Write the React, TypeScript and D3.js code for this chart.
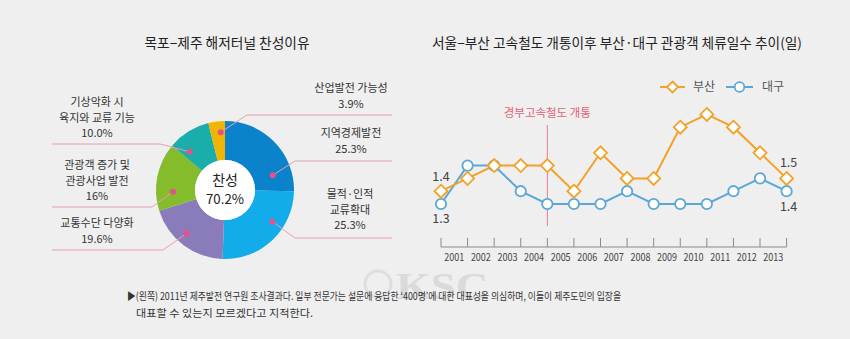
import React from 'react';
import * as d3 from 'd3';

// ---------- data ----------
const pieTitle = '목포−제주 해저터널 찬성이유';
const pieCategories = [
  ['지역경제발전'],
  ['물적·인적', '교류확대'],
  ['교통수단 다양화'],
  ['관광객 증가 및', '관광사업 발전'],
  ['기상악화 시', '육지와 교류 기능'],
  ['산업발전 가능성'],
];
const pieValues = [25.3, 25.3, 19.6, 16, 10.0, 3.9];
const pieValueLabels = ['25.3%', '25.3%', '19.6%', '16%', '10.0%', '3.9%'];
const pieCenterLabels = ['찬성', '70.2%'];

const lineTitle = '서울−부산 고속철도 개통이후 부산·대구 관광객 체류일수 추이(일)';
const years = ['2001', '2002', '2003', '2004', '2005', '2006', '2007', '2008', '2009', '2010', '2011', '2012', '2013'];
const busan = [1.4, 1.5, 1.6, 1.6, 1.6, 1.4, 1.7, 1.5, 1.5, 1.9, 2.0, 1.9, 1.7, 1.5];
const daegu = [1.3, 1.6, 1.6, 1.4, 1.3, 1.3, 1.3, 1.4, 1.3, 1.3, 1.3, 1.4, 1.5, 1.4];
const seriesNames = ['부산', '대구'];
const eventIndex = 4;
const eventLabel = '경부고속철도 개통';
const noteLines = [
  '▶(왼쪽) 2011년 제주발전 연구원 조사결과다. 일부 전문가는 설문에 응답한 \u2018400명\u2019에 대한 대표성을 의심하며, 이들이 제주도민의 입장을',
  '대표할 수 있는지 모르겠다고 지적한다.',
];

// ---------- styles / layout ----------
const FONT = "'Noto Sans CJK KR', 'Noto Sans', sans-serif";
const BG = '#efefef';
const TEXT = '#333';
const pieColors = ['#0b83cc', '#13acea', '#8a7cba', '#84bc2b', '#19aeaa', '#f1b401'];
const LEADER = '#e6a0b3';
const DOT = '#e8508a';
const ORANGE = '#f2a228';
const BLUE = '#5aa7d8';

const cx = 225, cy = 190, rOuter = 69, rInner = 30;

// label layout for each slice: text anchor, line, bend, dot position within slice
const labelLayout = [
  { tx: 351, ty: 133, ly: 161, bend: 295, end: 392, f: 0.8, r: 50 },
  { tx: 350, ty: 194, ly: 238, bend: 295, end: 392, f: 0.36, r: 57 },
  { tx: 97, ty: 223, ly: 250, bend: 163, end: 52, f: 0.56, r: 58 },
  { tx: 97, ty: 165, ly: 207, bend: 152, end: 52, f: 0.27, r: 52 },
  { tx: 97, ty: 102, ly: 144, bend: 160, end: 52, f: 0.2, r: 52 },
  { tx: 351, ty: 88, ly: 115, bend: 247, end: 392, f: 0.7, r: 58 },
];

export default function App() {
  const pie = d3.pie<number>().sort(null).value((d) => d)(pieValues);
  const arc = d3.arc<d3.PieArcDatum<number>>().innerRadius(rInner).outerRadius(rOuter);

  // line chart scales
  const x = d3.scaleLinear().domain([0, busan.length - 1]).range([441, 786.6]);
  const y = d3.scaleLinear().domain([1.3, 2.0]).range([204, 114.4]);
  const line = d3.line<number>().x((_, i) => x(i)).y((d) => y(d));
  const axisY = 247;
  const diamond = (px: number, py: number, s: number) =>
    `M${px},${py - s}L${px + s},${py}L${px},${py + s}L${px - s},${py}Z`;

  return (
    <svg
      width={850}
      height={339}
      style={{ position: 'absolute', left: 0, top: 0, background: BG, fontFamily: FONT }}
    >
      <rect x={0} y={0} width={850} height={339} fill={BG} />

      {/* watermark */}
      <g opacity={0.6}>
        <circle cx={378} cy={284} r={13} fill="none" stroke="#d4d4d4" strokeWidth={3} />
        <text x={396} y={299} fontFamily="'Liberation Serif', serif" fontWeight="bold" fontSize={38} fill="#cdcdcd" textLength={92} lengthAdjust="spacingAndGlyphs">KSC</text>
      </g>

      {/* ---------- left: donut ---------- */}
      <text x={227} y={48} textAnchor="middle" fontSize={13.5} fill="#222" textLength={165} lengthAdjust="spacingAndGlyphs">{pieTitle}</text>
      <g transform={`translate(${cx},${cy})`}>
        {pie.map((d, i) => (
          <path key={i} d={arc(d) || ''} fill={pieColors[i]} />
        ))}
        <circle r={rInner} fill="#fff" />
        <text y={-5} textAnchor="middle" fontSize={14} fill="#222">{pieCenterLabels[0]}</text>
        <text y={14} textAnchor="middle" fontSize={13.5} fill="#222" textLength={38} lengthAdjust="spacingAndGlyphs">{pieCenterLabels[1]}</text>
      </g>
      {pie.map((d, i) => {
        const L = labelLayout[i];
        const a = d.startAngle + L.f * (d.endAngle - d.startAngle);
        const dx = cx + L.r * Math.sin(a);
        const dy = cy - L.r * Math.cos(a);
        const lines = [...pieCategories[i], pieValueLabels[i]];
        return (
          <g key={i}>
            <polyline
              points={`${dx},${dy} ${L.bend},${L.ly} ${L.end},${L.ly}`}
              fill="none"
              stroke={LEADER}
              strokeWidth={1}
            />
            <circle cx={dx} cy={dy} r={3} fill={DOT} />
            {lines.map((t, j) => (
              <text key={j} x={L.tx} y={L.ty + j * 15.5 + 4} textAnchor="middle" fontSize={11} fill={TEXT}>
                {t}
              </text>
            ))}
          </g>
        );
      })}

      {/* ---------- right: line chart ---------- */}
      <text x={432} y={48} fontSize={13.5} fill="#222" textLength={370} lengthAdjust="spacingAndGlyphs">{lineTitle}</text>

      {/* legend */}
      <g>
        <line x1={660} x2={685} y1={87} y2={87} stroke={ORANGE} strokeWidth={2} />
        <path d={diamond(672.5, 87, 5.5)} fill="#fff" stroke={ORANGE} strokeWidth={1.8} />
        <text x={693} y={91} fontSize={12} fill="#555">{seriesNames[0]}</text>
        <line x1={726} x2={753} y1={87} y2={87} stroke={BLUE} strokeWidth={2} />
        <circle cx={739.5} cy={87} r={4.8} fill="#fff" stroke={BLUE} strokeWidth={1.8} />
        <text x={762} y={91} fontSize={12} fill="#555">{seriesNames[1]}</text>
      </g>

      {/* event marker */}
      <line x1={x(eventIndex)} x2={x(eventIndex)} y1={125} y2={226} stroke="#e57b90" strokeWidth={1} />
      <text x={x(eventIndex)} y={117} textAnchor="middle" fontSize={11.5} fill="#e0627b">{eventLabel}</text>

      {/* axis */}
      <line x1={x(0)} x2={x(busan.length - 1)} y1={axisY} y2={axisY} stroke="#8a8a8a" strokeWidth={1} />
      {busan.map((_, i) => (
        <line key={i} x1={x(i)} x2={x(i)} y1={axisY} y2={axisY - 9} stroke="#8a8a8a" strokeWidth={1} />
      ))}
      {years.map((yr, i) => (
        <text key={yr} x={x(i + 0.5)} y={261} textAnchor="middle" fontSize={11} fill="#444" textLength={20} lengthAdjust="spacingAndGlyphs">
          {yr}
        </text>
      ))}

      {/* series lines */}
      <path d={line(daegu) || ''} fill="none" stroke={BLUE} strokeWidth={2} />
      <path d={line(busan) || ''} fill="none" stroke={ORANGE} strokeWidth={2} />
      {daegu.map((v, i) => (
        <circle key={i} cx={x(i)} cy={y(v)} r={5.2} fill="#fff" stroke={BLUE} strokeWidth={1.8} />
      ))}
      {busan.map((v, i) => (
        <path key={i} d={diamond(x(i), y(v), 6.5)} fill="#fff" stroke={ORANGE} strokeWidth={1.8} />
      ))}

      {/* value labels at ends */}
      <text x={x(0)} y={y(busan[0]) - 10} textAnchor="middle" fontSize={12.5} fill="#444">{busan[0].toFixed(1)}</text>
      <text x={x(0)} y={y(daegu[0]) + 19} textAnchor="middle" fontSize={12.5} fill="#444">{daegu[0].toFixed(1)}</text>
      <text x={x(busan.length - 1) + 2} y={y(busan[busan.length - 1]) - 11} textAnchor="middle" fontSize={12.5} fill="#444">{busan[busan.length - 1].toFixed(1)}</text>
      <text x={x(daegu.length - 1) + 2} y={y(daegu[daegu.length - 1]) + 20} textAnchor="middle" fontSize={12.5} fill="#444">{daegu[daegu.length - 1].toFixed(1)}</text>

      {/* note */}
      <text x={127} y={300} fontSize={10.5} fill="#333" textLength={494} lengthAdjust="spacingAndGlyphs">{noteLines[0]}</text>
      <text x={136} y={317} fontSize={10.5} fill="#333" textLength={177} lengthAdjust="spacingAndGlyphs">{noteLines[1]}</text>
    </svg>
  );
}
